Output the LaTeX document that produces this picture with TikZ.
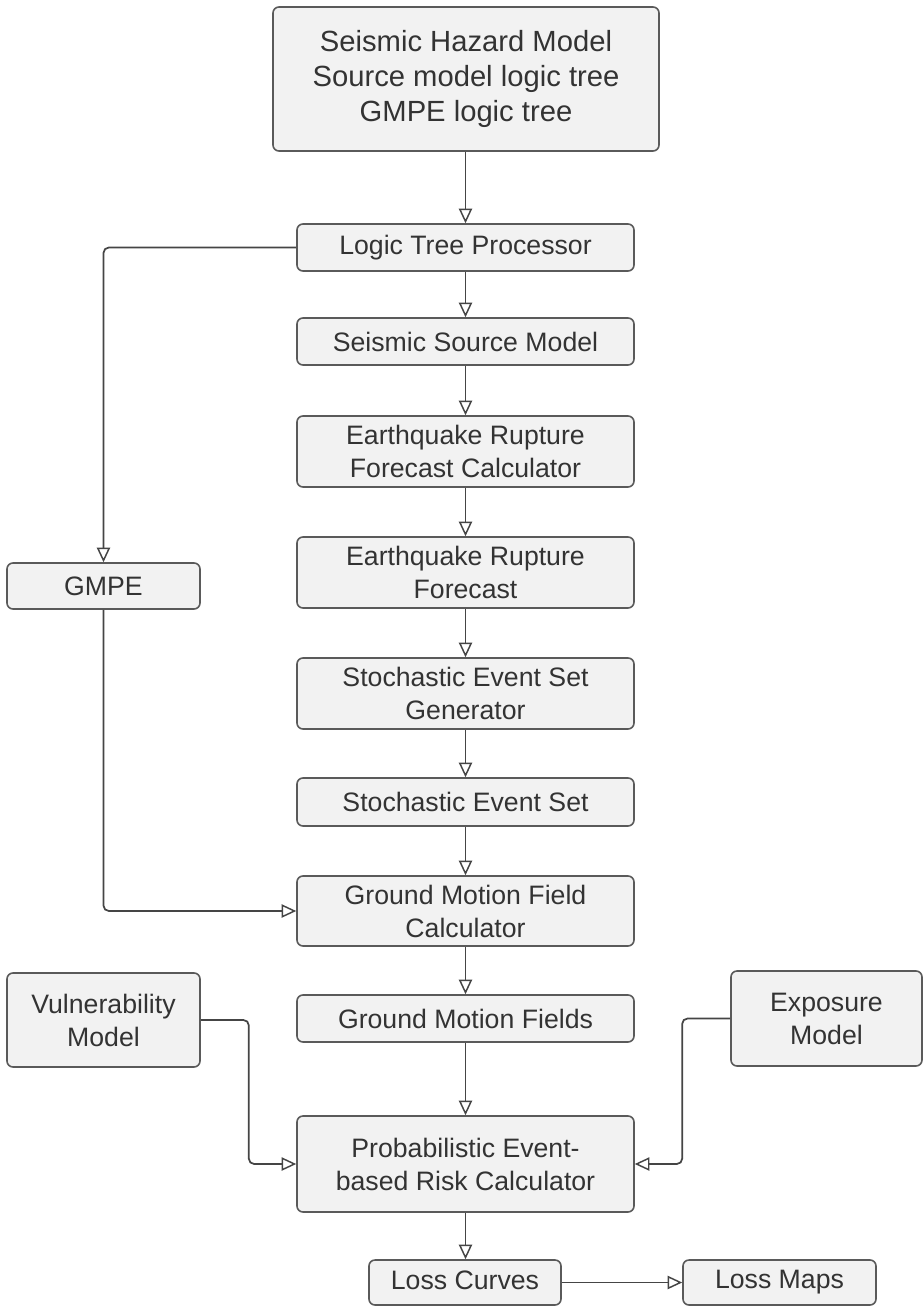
\documentclass[tikz,border=0pt]{standalone}
\usepackage{fontspec}
\setmainfont{Liberation Sans}
\usetikzlibrary{arrows.meta}
\definecolor{boxfill}{HTML}{F2F2F2}
\definecolor{boxdraw}{HTML}{5A5A5A}
\definecolor{txt}{HTML}{333333}
\definecolor{linec}{HTML}{454545}
\tikzset{
  box/.style={draw=boxdraw, fill=boxfill, line width=1.2pt, rounded corners=4.5pt,
    text=txt, align=center, inner sep=0pt, font=\fontsize{20pt}{24.75pt}\selectfont},
  bigbox/.style={box, font=\fontsize{21.9pt}{26.25pt}\selectfont},
  conn/.style={draw=linec, line width=1.3pt, rounded corners=4pt,
    -{Triangle[open, length=11pt, width=10pt, line width=1.1pt]}},
}
\newcommand{\bx}[7][box]{% style, name, x1, y1, x2, y2, text
  \node[#1, minimum width={(#5-#3)*0.75pt}, minimum height={(#6-#4)*0.75pt}]
    (#2) at ({(#3+#5)/2},{(#4+#6)/2}) {#7};}
\begin{document}
\begin{tikzpicture}[x=0.75pt, y=-0.75pt]
\useasboundingbox[fill=white] (0,0) rectangle (923,1306);
\bx[bigbox]{shm}{273}{7}{659}{151}{Seismic Hazard Model\\Source model logic tree\\GMPE logic tree}
\bx{ltp}{297}{224}{634}{271}{Logic Tree Processor}
\bx{ssm}{297}{318}{634}{365}{Seismic Source Model}
\bx{erfc}{297}{416}{634}{487}{Earthquake Rupture\\Forecast Calculator}
\bx{erf}{297}{537}{634}{608}{Earthquake Rupture\\Forecast}
\bx{sesg}{297}{658}{634}{729}{Stochastic Event Set\\Generator}
\bx{ses}{297}{778}{634}{826}{Stochastic Event Set}
\bx{gmfc}{297}{876}{634}{946}{Ground Motion Field\\Calculator}
\bx{gmf}{297}{995}{634}{1042}{Ground Motion Fields}
\bx{perc}{297}{1116}{634}{1212}{Probabilistic Event-\\based Risk Calculator}
\bx{lc}{369}{1260}{561}{1305}{Loss Curves\vphantom{p}}
\bx{lm}{683}{1260}{876}{1305}{Loss Maps}
\bx{gmpe}{7}{563}{200}{609}{GMPE}
\bx{vm}{7}{973}{200}{1067}{Vulnerability\\Model}
\bx{em}{731}{971}{922}{1066}{Exposure\\Model}

\path[conn] (shm.south -| ltp.north) -- (ltp.north);
\path[conn] (ltp.south) -- (ssm.north);
\path[conn] (ssm.south) -- (erfc.north);
\path[conn] (erfc.south) -- (erf.north);
\path[conn] (erf.south) -- (sesg.north);
\path[conn] (sesg.south) -- (ses.north);
\path[conn] (ses.south) -- (gmfc.north);
\path[conn] (gmfc.south) -- (gmf.north);
\path[conn] (gmf.south) -- (perc.north);
\path[conn] (perc.south) -- (perc.south |- lc.north);
\path[conn] (lc.east) -- (lm.west);
\path[conn] (ltp.west) -| (gmpe.north);
\path[conn] (gmpe.south) |- (gmfc.west);
\path[conn] (vm.east) -- ++(48,0) |- (perc.west);
\path[conn] (em.west) -- ++(-48,0) |- (perc.east);
\end{tikzpicture}
\end{document}
